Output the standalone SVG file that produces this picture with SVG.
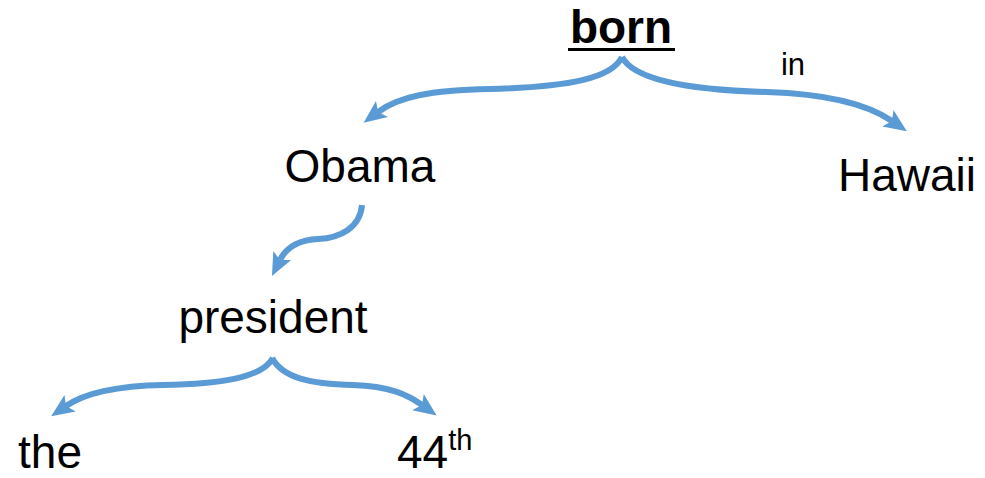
<svg xmlns="http://www.w3.org/2000/svg" width="985" height="478" viewBox="0 0 985 478">
<style>
text{font-family:"Liberation Sans",Arial,sans-serif;fill:#000;font-size:46px}
.b{font-weight:bold}
.c{fill:none;stroke:#5B9BD5;stroke-width:6;stroke-linecap:butt;marker-end:url(#ah)}
</style>
<defs>
<marker id="ah" markerUnits="userSpaceOnUse" markerWidth="24" markerHeight="22" viewBox="0 0 24 22" refX="5" refY="11" orient="auto">
<path d="M0,1 L23,11 L0,21 L5,11 z" fill="#5B9BD5"/>
</marker>
</defs>
<g id="connectors">
<path class="c" d="M622,57 C612,78 570,87 490,89 C430,90 398,97 378,112"/>
<path class="c" d="M622,57 C634,80 690,90 767,92 C830,94 870,106 892,121"/>
<path class="c" d="M362,205 C360,228 340,238 318,239 C298,240 286,248 280,260"/>
<path class="c" d="M273,358 C262,378 220,384 163,385 C110,386 82,395 66,406"/>
<path class="c" d="M272,358 C283,378 310,384 353,385 C390,386 408,395 422,405"/>
</g>
<g id="born"><text class="b" x="621" y="43" text-anchor="middle">born</text><rect x="568" y="48" width="107" height="3" fill="#000"/></g>
<g id="in"><text x="793" y="75" text-anchor="middle" style="font-size:31px">in</text></g>
<g id="obama"><text x="360" y="182" text-anchor="middle">Obama</text></g>
<g id="hawaii"><text x="907" y="191" text-anchor="middle">Hawaii</text></g>
<g id="president"><text x="273" y="333" text-anchor="middle">president</text></g>
<g id="the"><text x="50" y="468" text-anchor="middle">the</text></g>
<g id="n44"><text x="397" y="468">44<tspan dy="-18" style="font-size:29px">th</tspan></text></g>
</svg>
